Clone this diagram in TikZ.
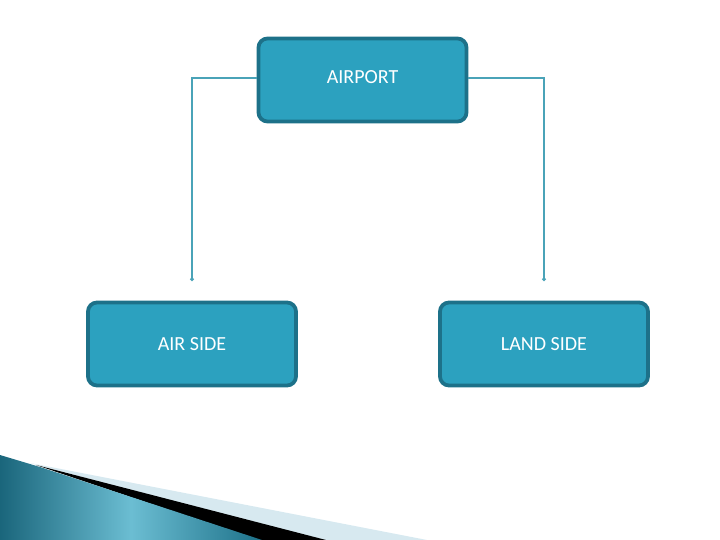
\documentclass[tikz,border=0pt]{standalone}
\usepackage{fontspec}
\setmainfont{Carlito}
\usetikzlibrary{arrows.meta}
\definecolor{boxfill}{HTML}{2CA1BF}
\definecolor{boxline}{HTML}{1D7189}
\definecolor{conn}{HTML}{4AA3B8}
\definecolor{pale}{HTML}{D7E9F0}
\tikzset{
  box/.style={draw=boxline, line width=3.8pt, fill=boxfill, rounded corners=9pt,
    minimum width=208pt, minimum height=83pt, text=white, font=\fontsize{20}{22}\selectfont, inner sep=0pt},
  link/.style={draw=conn, line width=1.5pt, -{Circle[length=3.5pt,width=3.5pt]}}
}
\begin{document}
\begin{tikzpicture}[x=1pt,y=-1pt]
\useasboundingbox (0,0) rectangle (720,540);
\node[box, text depth=6pt] (airport) at (362.5,80) {AIRPORT};
\node[box] (air) at (192,344) {AIR SIDE};
\node[box] (land) at (544,344) {LAND SIDE};
\coordinate (aend) at (192,281);
\coordinate (lend) at (544,281);
\draw[link] (airport.west |- 0,78) -| (aend);
\draw[link] (airport.east |- 0,78) -| (lend);
% bottom decoration
\fill[pale] (30,463) -- (427,540) -- (318,540) -- cycle;
\fill[black] (36,465) -- (326,540) -- (258,540) -- cycle;
\shade[left color=boxline!90!black, right color=boxline, middle color=boxfill!70!white]
  (0,455) -- (40,467) -- (262,540) -- (0,540) -- cycle;
\end{tikzpicture}
\end{document}
